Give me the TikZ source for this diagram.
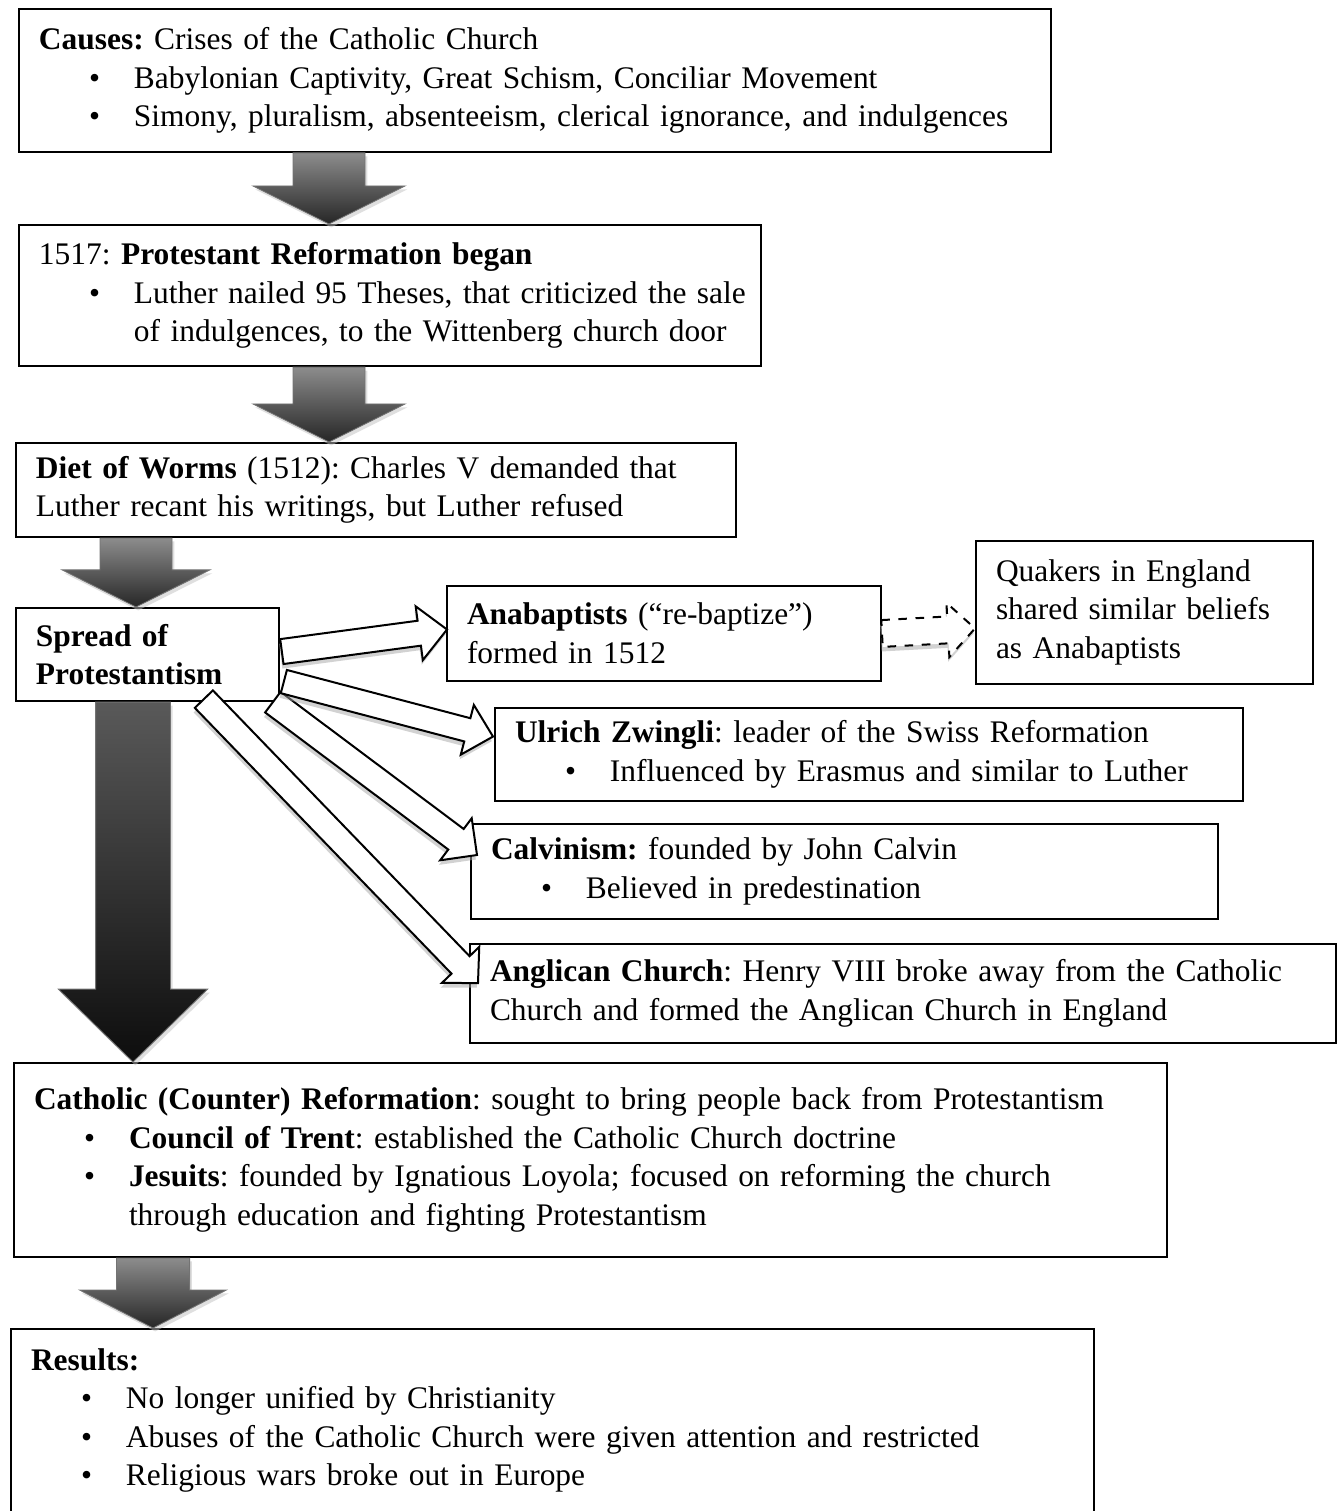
\documentclass[tikz,border=0pt]{standalone}
\usepackage{fontspec}
\setmainfont{Liberation Serif}
\usetikzlibrary{calc,shadows}

\newcommand{\bitem}{\hspace*{17.5pt}\makebox[15.75pt][l]{\textbullet}}
\newcommand{\bcont}{\hspace*{33.25pt}}
% block arrow: [style]{from}{to}{shaft half width}{head half width}{head length}
\newcommand{\blockarrow}[6][]{%
  \coordinate (ba-a) at (#2);
  \coordinate (ba-b) at (#3);
  \coordinate (ba-h) at ($(ba-b)!#6!(ba-a)$);
  \path[#1] ($(ba-a)!#4!90:(ba-b)$) -- ($(ba-h)!#4!90:(ba-b)$)
    -- ($(ba-h)!#5!90:(ba-b)$) -- (ba-b) -- ($(ba-h)!#5!-90:(ba-b)$)
    -- ($(ba-h)!#4!-90:(ba-b)$) -- ($(ba-a)!#4!-90:(ba-b)$) -- cycle;}

\begin{document}
\begin{tikzpicture}[x=0.35pt, y=-0.35pt,
  box/.style={draw, line width=0.7pt, anchor=north west, align=left,
    inner xsep=7pt, inner ysep=0pt, font=\fontsize{11}{13.5}\selectfont\frenchspacing},
  down/.style={draw=black!55, line width=0.3pt, top color=black!45, bottom color=black!85,
    drop shadow={shadow xshift=0.8pt, shadow yshift=-1.2pt, fill=black!25}},
  side/.style={draw, line width=0.7pt, fill=white,
    drop shadow={shadow xshift=-0.4pt, shadow yshift=-1.6pt, fill=black!35}}]
\useasboundingbox (0,0) rectangle (1341,1511);

% boxes
\node[box, text width=347.2pt, minimum height=50pt] (causes) at (18,8)
  {\textbf{Causes:} Crises of the Catholic Church\\
   \bitem Babylonian Captivity, Great Schism, Conciliar Movement\\
   \bitem Simony, pluralism, absenteeism, clerical ignorance, and indulgences};
\node[box, text width=245.7pt, minimum height=49.4pt] (begin) at (18,224)
  {1517: \textbf{Protestant Reformation began}\\
   \mbox{\bitem Luther nailed 95 Theses, that criticized the sale}\\
   \mbox{\bcont of indulgences, to the Wittenberg church door}};
\node[box, text width=238pt, minimum height=32.9pt] (diet) at (15,442)
  {\textbf{Diet of Worms} (1512): Charles V demanded that\\
   Luther recant his writings, but Luther refused};
\node[box, text width=78pt, minimum height=32.6pt] (spread) at (15,607)
  {\textbf{Spread of}\\ \textbf{Protestantism}};
\node[box, text width=137.9pt, minimum height=33.25pt] (anabap) at (446,585)
  {\textbf{Anabaptists} (“re-baptize”)\\ formed in 1512};
\node[box, text width=104pt, minimum height=50pt] (quakers) at (975,540)
  {Quakers in England\\ shared similar beliefs\\ as Anabaptists};
\node[box, text width=247.8pt, minimum height=32.6pt] (zwingli) at (494,707)
  {\textbf{Ulrich Zwingli}: leader of the Swiss Reformation\\
   \bitem Influenced by Erasmus and similar to Luther};
\node[box, text width=247.5pt, minimum height=33.25pt] (calvin) at (470,823)
  {\textbf{Calvinism:} founded by John Calvin\\
   \bitem Believed in predestination};
\node[box, text width=289.1pt, minimum height=34.65pt] (anglican) at (469,943)
  {\textbf{Anglican Church}: Henry VIII broke away from the Catholic\\
   Church and formed the Anglican Church in England};
\node[box, text width=389.5pt, minimum height=67.9pt] (counter) at (13,1062)
  {\textbf{Catholic (Counter) Reformation}: sought to bring people back from Protestantism\\
   \bitem \textbf{Council of Trent}: established the Catholic Church doctrine\\
   \bitem \textbf{Jesuits}: founded by Ignatious Loyola; focused on reforming the church\\
   \bcont through education and fighting Protestantism};
\node[box, text width=365pt, minimum height=64pt] (results) at (10,1328)
  {\textbf{Results:}\\
   \bitem No longer unified by Christianity\\
   \bitem Abuses of the Catholic Church were given attention and restricted\\
   \bitem Religious wars broke out in Europe};

% main flow
\blockarrow[down]{$(causes.south west)+(311,0)$}{$(begin.north west)+(311,0)$}{12.6pt}{26.6pt}{13.3pt}
\blockarrow[down]{$(begin.south west)+(311,0)$}{$(diet.north west)+(314,0)$}{12.6pt}{26.6pt}{13.3pt}
\blockarrow[down]{$(diet.south west)+(121,0)$}{$(spread.north west)+(121,0)$}{12.6pt}{25.9pt}{13pt}
\blockarrow[down, top color=black!65, bottom color=black!95]{$(spread.south west)+(118,0)$}{$(counter.north west)+(120,0)$}{13.1pt}{26.1pt}{25.5pt}
\blockarrow[down]{$(counter.south west)+(140,0)$}{$(results.north west)+(143,0)$}{12.8pt}{25.7pt}{13.3pt}

% branches
\blockarrow[side]{$(spread.south east)+(-76,-3)$}{$(anglican.north west)+(9,40)$}{4.4pt}{9.1pt}{8.8pt}
\blockarrow[side]{$(spread.south east)+(-7,0)$}{$(calvin.north west)+(7,32)$}{4.5pt}{9.2pt}{9.2pt}
\blockarrow[side]{$(spread.east)+(4,27)$}{$(zwingli.west)+(-1,-18)$}{4.2pt}{9pt}{9.3pt}
\blockarrow[side]{$(spread.east)+(2,-3)$}{$(anabap.west)+(1,-4)$}{4.4pt}{9.5pt}{9.8pt}
\blockarrow[side, dashed]{anabap.east}{$(quakers.west)+(0,16)$}{4.7pt}{9.5pt}{9.5pt}
\end{tikzpicture}
\end{document}
